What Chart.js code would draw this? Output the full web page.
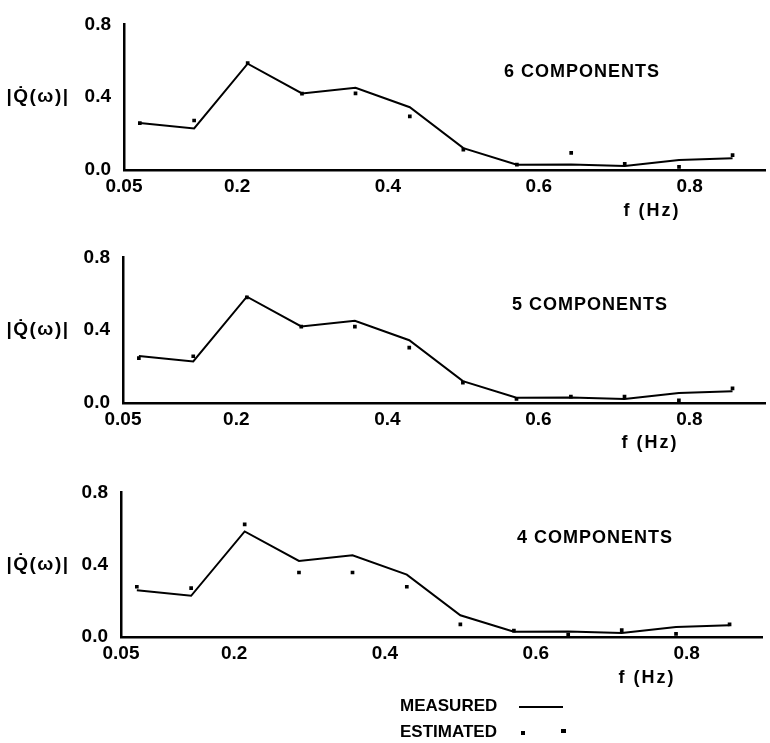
<!DOCTYPE html>
<html>
<head>
<meta charset="utf-8">
<script src="https://cdn.jsdelivr.net/npm/chart.js@4/dist/chart.umd.min.js"></script>
<style>
  html, body { margin: 0; padding: 0; background: #fff; }
  #wrap { position: relative; width: 770px; height: 743px; overflow: hidden; }
  .pane { position: absolute; left: 0; width: 770px; }
</style>
</head>
<body>
<div id="wrap">
  <div class="pane" id="p1" style="top:0px;height:228px"><canvas id="c1"></canvas></div>
  <div class="pane" id="p2" style="top:233px;height:228px"><canvas id="c2"></canvas></div>
  <div class="pane" id="p3" style="top:468px;height:275px"><canvas id="c3"></canvas></div>
</div>
<script>
// ---- data ----
const freqs = [0.071, 0.143, 0.214, 0.286, 0.357, 0.429, 0.500, 0.571, 0.643, 0.714, 0.786, 0.857];
const measured = [0.258, 0.228, 0.584, 0.421, 0.452, 0.345, 0.120, 0.029, 0.030, 0.022, 0.055, 0.065];
const estimated6 = [0.258, 0.272, 0.588, 0.420, 0.421, 0.295, 0.112, 0.030, 0.094, 0.034, 0.017, 0.082];
const estimated5 = [0.247, 0.257, 0.580, 0.420, 0.420, 0.304, 0.112, 0.023, 0.035, 0.035, 0.014, 0.080];
const estimated4 = [0.278, 0.270, 0.623, 0.357, 0.357, 0.278, 0.070, 0.035, 0.014, 0.038, 0.017, 0.070];
const xTickValues = [0.05, 0.2, 0.4, 0.6, 0.8];
const xTickLabels = ['0.05', '0.2', '0.4', '0.6', '0.8'];
const yTickValues = [0.0, 0.4, 0.8];
const yTickLabels = ['0.0', '0.4', '0.8'];
const panelTitles = ['6 COMPONENTS', '5 COMPONENTS', '4 COMPONENTS'];
const yAxisLabel = '|Q\u0307(\u03C9)|';
const xAxisLabel = 'f (Hz)';
const legendLabels = ['MEASURED', 'ESTIMATED'];

const FONT = '"Liberation Sans", Arial, Helvetica, sans-serif';

function makePanel(canvasId, estimated, cfg) {
  const lineData = freqs.map((f, i) => ({ x: f, y: measured[i] }));
  const pointData = freqs.map((f, i) => ({ x: f, y: estimated[i] }));

  const textPlugin = {
    id: 'texts' + canvasId,
    afterDraw(chart) {
      const ctx = chart.ctx;
      const ca = chart.chartArea;
      ctx.save();
      ctx.fillStyle = '#000';
      ctx.textBaseline = 'middle';
      // panel title
      ctx.font = 'bold 18px ' + FONT;
      try { ctx.letterSpacing = '1px'; } catch (e) {}
      ctx.textAlign = 'center';
      ctx.fillText(cfg.title, cfg.titleX, cfg.titleY);
      // y label
      ctx.font = 'bold 19px ' + FONT;
      try { ctx.letterSpacing = '1.5px'; } catch (e) {}
      ctx.fillText(yAxisLabel, 38, (ca.top + ca.bottom) / 2);
      // x label
      ctx.font = 'bold 18px ' + FONT;
      try { ctx.letterSpacing = '2px'; } catch (e) {}
      ctx.fillText(xAxisLabel, cfg.xlabX, cfg.xlabY);
      try { ctx.letterSpacing = '0px'; } catch (e) {}
      // legend
      if (cfg.legend) {
        ctx.font = 'bold 17px ' + FONT;
        ctx.textAlign = 'left';
        ctx.fillText(legendLabels[0], 400, cfg.legend.y1);
        ctx.fillText(legendLabels[1], 400, cfg.legend.y2);
        ctx.strokeStyle = '#000';
        ctx.lineWidth = 2;
        ctx.beginPath();
        ctx.moveTo(519, cfg.legend.y1 + 1);
        ctx.lineTo(563, cfg.legend.y1 + 1);
        ctx.stroke();
        ctx.fillRect(521, cfg.legend.y2 - 1, 4, 4);
        ctx.fillRect(561, cfg.legend.y2 - 3, 5, 4);
      }
      ctx.restore();
    }
  };

  return new Chart(document.getElementById(canvasId), {
    type: 'scatter',
    data: {
      datasets: [
        {
          label: 'MEASURED',
          data: lineData,
          showLine: true,
          borderColor: '#000',
          borderWidth: 2,
          pointRadius: 0,
          tension: 0
        },
        {
          label: 'ESTIMATED',
          data: pointData,
          showLine: false,
          pointStyle: 'rect',
          pointRadius: 2.6,
          backgroundColor: '#000',
          borderColor: '#000',
          borderWidth: 0
        }
      ]
    },
    options: {
      responsive: true,
      maintainAspectRatio: false,
      animation: false,
      events: [],
      layout: { padding: { top: cfg.top, right: 770 - cfg.right, left: 0, bottom: 0 } },
      plugins: { legend: { display: false }, tooltip: { enabled: false }, title: { display: false } },
      scales: {
        x: {
          type: 'linear',
          min: 0.05,
          max: 0.9,
          grid: { display: false, drawTicks: false },
          border: { display: true, color: '#000', width: 2.5 },
          afterBuildTicks(scale) { scale.ticks = xTickValues.map(v => ({ value: v })); },
          afterFit(scale) { scale.height = cfg.h - cfg.bottom; },
          ticks: {
            autoSkip: false,
            maxRotation: 0,
            padding: 5,
            color: '#000',
            font: { family: FONT, size: 19, weight: 'bold' },
            callback(v) { const i = xTickValues.indexOf(v); return i >= 0 ? xTickLabels[i] : ''; }
          }
        },
        y: {
          type: 'linear',
          min: 0,
          max: 0.8,
          grid: { display: false, drawTicks: false },
          border: { display: true, color: '#000', width: 2.5 },
          afterBuildTicks(scale) { scale.ticks = yTickValues.map(v => ({ value: v })); },
          afterFit(scale) { scale.width = cfg.left; },
          ticks: {
            padding: 13,
            color: '#000',
            font: { family: FONT, size: 19, weight: 'bold' },
            callback(v) { const i = yTickValues.indexOf(v); return i >= 0 ? yTickLabels[i] : ''; }
          }
        }
      }
    },
    plugins: [textPlugin]
  });
}

makePanel('c1', estimated6, {
  h: 228, top: 15, bottom: 170, left: 124, right: 765,
  title: panelTitles[0], titleX: 582, titleY: 72,
  xlabX: 652, xlabY: 211
});
makePanel('c2', estimated5, {
  h: 228, top: 15, bottom: 170, left: 123, right: 765,
  title: panelTitles[1], titleX: 590, titleY: 72,
  xlabX: 650, xlabY: 210
});
makePanel('c3', estimated4, {
  h: 275, top: 15, bottom: 169, left: 121, right: 762,
  title: panelTitles[2], titleX: 595, titleY: 70,
  xlabX: 647, xlabY: 210,
  legend: { y1: 238, y2: 264 }
});
</script>
</body>
</html>
